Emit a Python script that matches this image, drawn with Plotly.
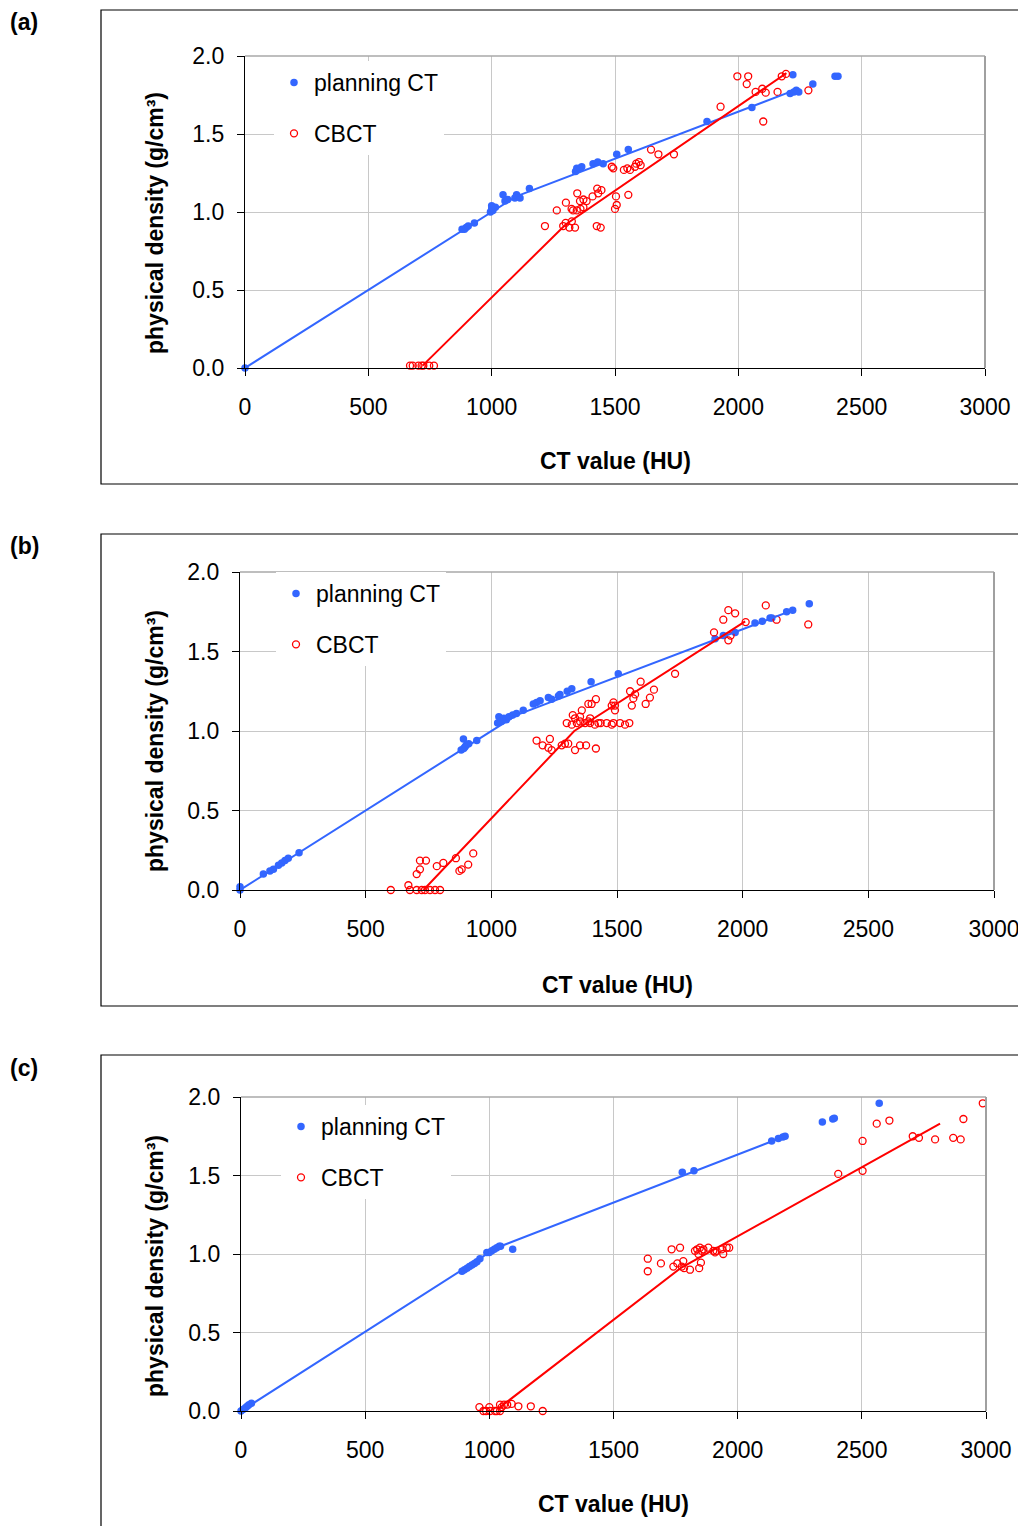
import plotly.graph_objects as go

# ---------------- Panel (a) ----------------
a_ct_hu = [0, 880, 890, 897, 905, 930, 995, 1000, 1005, 1000, 1015, 1046, 1054, 1065, 1094, 1101,
           1115, 1153, 1340, 1345, 1358, 1365, 1411, 1430, 1452, 1507, 1554, 1873, 2055, 2210, 2225,
           2235, 2245, 2221, 2302, 2392, 2404]
a_ct_rho = [0.0, 0.89, 0.89, 0.90, 0.91, 0.93, 1.00, 1.02, 1.01, 1.04, 1.03, 1.11, 1.07, 1.08, 1.09, 1.11,
            1.09, 1.15, 1.26, 1.28, 1.28, 1.29, 1.31, 1.32, 1.31, 1.37, 1.40, 1.58, 1.67, 1.76, 1.77,
            1.78, 1.77, 1.88, 1.82, 1.87, 1.87]
a_cb_hu = [669, 680, 703, 716, 723, 747, 766,
           1216, 1264, 1290, 1300, 1315, 1325, 1338,
           1301, 1324, 1330, 1345, 1360, 1372,
           1347, 1358, 1372, 1385,
           1409, 1428, 1432, 1445,
           1426, 1442, 1487, 1493, 1500, 1507, 1504, 1554,
           1536, 1550, 1561, 1581, 1586, 1597, 1604,
           1646, 1676, 1739, 1928, 1996, 2040, 2034,
           2070, 2097, 2111, 2101, 2159, 2176, 2193, 2284]
a_cb_rho = [0.015, 0.015, 0.015, 0.015, 0.015, 0.015, 0.015,
            0.91, 1.01, 0.91, 0.93, 0.90, 0.94, 0.90,
            1.06, 1.02, 1.01, 1.01, 1.02, 1.03,
            1.12, 1.07, 1.08, 1.07,
            1.10, 1.15, 1.12, 1.14,
            0.91, 0.90, 1.29, 1.28, 1.02, 1.045, 1.10, 1.11,
            1.27, 1.28, 1.27, 1.29, 1.31, 1.32, 1.30,
            1.40, 1.37, 1.37, 1.675, 1.87, 1.87, 1.82,
            1.77, 1.79, 1.765, 1.58, 1.77, 1.87, 1.885, 1.78]
a_fit_ct_hu = [0, 1100, 2210]
a_fit_ct_rho = [0.0, 1.10, 1.77]
a_fit_cb_hu = [720, 1300, 2195]
a_fit_cb_rho = [0.015, 0.92, 1.89]

# ---------------- Panel (b) ----------------
b_ct_hu = [0, 0, 93, 119, 133, 153, 166, 179, 192, 235,
           880, 889, 890, 895, 900, 910, 942,
           1025, 1030, 1040, 1050, 1060, 1070, 1085, 1100, 1127,
           1167, 1180, 1194, 1227, 1240, 1267, 1273, 1302, 1320, 1397, 1505,
           1890, 1923, 1970, 2049, 2078, 2109, 2116, 2175, 2199, 2265]
b_ct_rho = [0.0, 0.02, 0.10, 0.12, 0.13, 0.155, 0.17, 0.185, 0.20, 0.235,
            0.88, 0.95, 0.89, 0.90, 0.91, 0.92, 0.94,
            1.05, 1.09, 1.06, 1.08, 1.07, 1.09, 1.10, 1.11, 1.13,
            1.17, 1.18, 1.19, 1.21, 1.20, 1.22, 1.23, 1.25, 1.265, 1.31, 1.36,
            1.58, 1.60, 1.62, 1.68, 1.69, 1.71, 1.71, 1.75, 1.76, 1.80]
b_cb_hu = [600, 670, 676, 703, 723, 736, 756, 776, 796, 703, 716, 716, 740, 783, 809, 859, 873, 882, 908, 928,
           1180, 1204, 1227, 1233, 1240, 1280, 1293, 1306, 1333, 1353, 1377, 1416,
           1300, 1320, 1340, 1353, 1373, 1386, 1393, 1412, 1426, 1435, 1459, 1479, 1486, 1512, 1532, 1549,
           1324, 1333, 1353, 1360, 1393, 1386, 1399, 1416,
           1479, 1486, 1492, 1492, 1552, 1565, 1559, 1572,
           1594, 1614, 1631, 1647, 1731,
           1886, 1923, 1943, 1970, 1943, 1952, 2012, 2092, 2135, 2261]
b_cb_rho = [0.0, 0.03, 0.0, 0.0, 0.0, 0.0, 0.0, 0.0, 0.0, 0.10, 0.13, 0.185, 0.185, 0.15, 0.17, 0.20, 0.12, 0.13, 0.16, 0.23,
            0.94, 0.91, 0.895, 0.95, 0.88, 0.91, 0.92, 0.92, 0.88, 0.91, 0.91, 0.89,
            1.05, 1.04, 1.05, 1.06, 1.05, 1.06, 1.05, 1.04, 1.05, 1.05, 1.05, 1.04, 1.05, 1.05, 1.04, 1.05,
            1.10, 1.08, 1.09, 1.13, 1.08, 1.17, 1.17, 1.20,
            1.16, 1.18, 1.13, 1.16, 1.25, 1.205, 1.16, 1.23,
            1.31, 1.17, 1.21, 1.26, 1.36,
            1.62, 1.70, 1.76, 1.74, 1.57, 1.60, 1.685, 1.79, 1.70, 1.67]
b_fit_ct_hu = [0, 1100, 2200]
b_fit_ct_rho = [0.0, 1.10, 1.76]
b_fit_cb_hu = [730, 1330, 2010]
b_fit_cb_rho = [0.0, 1.0, 1.69]

# ---------------- Panel (c) ----------------
c_ct_hu = [0, 8, 18, 25, 32, 42,
           890, 900, 910, 920, 930, 940, 950, 962,
           990, 1000, 1010, 1020, 1030, 1040, 1045, 1094,
           1777, 1824, 2137, 2164, 2182, 2191, 2341, 2383, 2389, 2570]
c_ct_rho = [0.0, 0.01, 0.02, 0.03, 0.04, 0.05,
            0.89, 0.90, 0.91, 0.92, 0.93, 0.94, 0.95, 0.97,
            1.01, 1.01, 1.02, 1.03, 1.04, 1.05, 1.05, 1.03,
            1.52, 1.53, 1.72, 1.735, 1.745, 1.75, 1.84, 1.86, 1.865, 1.96]
c_cb_hu = [960, 976, 987, 1000, 1003, 1023, 1030, 1043, 1050, 1043, 1059, 1072, 1090, 1117, 1167, 1215,
           1638, 1638, 1691, 1734, 1768, 1741, 1757, 1775, 1781, 1784, 1808,
           1828, 1837, 1848, 1842, 1855, 1862, 1882, 1902, 1909, 1915, 1936, 1942, 1956, 1966,
           1845, 1852, 2405, 2503, 2503, 2560, 2611, 2705, 2730, 2795, 2868, 2898, 2909, 2987]
c_cb_rho = [0.025, 0.0, 0.0, 0.025, 0.0, 0.0, 0.0, 0.0, 0.025, 0.04, 0.04, 0.04, 0.045, 0.03, 0.03, 0.0,
            0.97, 0.89, 0.94, 1.03, 1.04, 0.92, 0.94, 0.92, 0.955, 0.91, 0.90,
            1.02, 1.03, 1.04, 1.00, 1.02, 1.03, 1.04, 1.02, 1.01, 1.02, 1.03, 1.00, 1.04, 1.04,
            0.91, 0.945, 1.51, 1.72, 1.53, 1.83, 1.85, 1.75, 1.74, 1.73, 1.74, 1.73, 1.86, 1.96]
c_fit_ct_hu = [0, 1030, 2190]
c_fit_ct_rho = [0.0, 1.04, 1.75]
c_fit_cb_hu = [1040, 1770, 2815]
c_fit_cb_rho = [0.02, 0.91, 1.83]

x_ticks = [0, 500, 1000, 1500, 2000, 2500, 3000]
y_ticks = [0.0, 0.5, 1.0, 1.5, 2.0]
panel_labels = ["(a)", "(b)", "(c)"]
x_title = "CT value (HU)"
y_title = "physical density (g/cm³)"
series_names = ["planning CT", "CBCT"]

BLUE = "#3366ff"
RED = "#ff0000"
FONT = "Liberation Sans, Arial, sans-serif"
W, H = 1018, 1526


def X(px):
    return px / W


def Y(py):
    return 1 - py / H


# layout geometry in pixels: plot area left, right, top, bottom; outer box top, bottom; legend left, top
panels = [
    dict(l=245, r=985, t=56, b=368, bt=10, bb=484, lx=274, ly=61, lab=22, xt=461, yt=223),
    dict(l=240, r=994, t=572, b=890, bt=534, bb=1006, lx=276, ly=572, lab=546, xt=985, yt=741),
    dict(l=241, r=986, t=1097, b=1411, bt=1055, bb=1540, lx=281, ly=1105, lab=1068, xt=1504, yt=1266),
]

data = [
    (a_ct_hu, a_ct_rho, a_cb_hu, a_cb_rho, a_fit_ct_hu, a_fit_ct_rho, a_fit_cb_hu, a_fit_cb_rho),
    (b_ct_hu, b_ct_rho, b_cb_hu, b_cb_rho, b_fit_ct_hu, b_fit_ct_rho, b_fit_cb_hu, b_fit_cb_rho),
    (c_ct_hu, c_ct_rho, c_cb_hu, c_cb_rho, c_fit_ct_hu, c_fit_ct_rho, c_fit_cb_hu, c_fit_cb_rho),
]

fig = go.Figure()
shapes = []
annotations = []
layout = {}

for i, (p, d) in enumerate(zip(panels, data)):
    n = "" if i == 0 else str(i + 1)
    xa, ya = "x" + n, "y" + n
    leg = "legend" + n
    ct_hu, ct_rho, cb_hu, cb_rho, fct_hu, fct_rho, fcb_hu, fcb_rho = d

    fig.add_trace(go.Scatter(x=ct_hu, y=ct_rho, mode="markers", name=series_names[0],
                             marker=dict(color=BLUE, size=7.5, symbol="circle"),
                             xaxis=xa, yaxis=ya, legend=leg, legendgroup="ct" + n, cliponaxis=False))
    fig.add_trace(go.Scatter(x=cb_hu, y=cb_rho, mode="markers", name=series_names[1],
                             marker=dict(color=RED, size=7, symbol="circle-open", line=dict(width=1.3, color=RED)),
                             xaxis=xa, yaxis=ya, legend=leg, legendgroup="cb" + n, cliponaxis=False))
    fig.add_trace(go.Scatter(x=fct_hu, y=fct_rho, mode="lines", line=dict(color=BLUE, width=2),
                             xaxis=xa, yaxis=ya, showlegend=False, hoverinfo="skip", cliponaxis=False))
    fig.add_trace(go.Scatter(x=fcb_hu, y=fcb_rho, mode="lines", line=dict(color=RED, width=2),
                             xaxis=xa, yaxis=ya, showlegend=False, hoverinfo="skip", cliponaxis=False))

    layout["xaxis" + n] = dict(
        domain=[X(p["l"]), X(p["r"])], anchor=ya, range=[0, 3000], tickvals=x_ticks,
        showgrid=True, gridcolor="#c8c8c8", gridwidth=1, zeroline=False,
        showline=True, linecolor="#000000", linewidth=1.3,
        ticks="outside", ticklen=7, tickcolor="#000000", tickwidth=1,
        tickfont=dict(family=FONT, size=23, color="#000000"), ticklabelstandoff=11,
        ticklabeloverflow="allow", automargin=False, fixedrange=True)
    layout["yaxis" + n] = dict(
        domain=[Y(p["b"]), Y(p["t"])], anchor=xa, range=[0, 2.0], tickvals=y_ticks, tickformat=".1f",
        showgrid=True, gridcolor="#c8c8c8", gridwidth=1, zeroline=False,
        showline=True, linecolor="#000000", linewidth=1.3,
        ticks="outside", ticklen=7, tickcolor="#000000", tickwidth=1,
        tickfont=dict(family=FONT, size=23, color="#000000"), ticklabelstandoff=8,
        automargin=False, fixedrange=True)
    layout[leg] = dict(
        x=X(p["lx"]), y=Y(p["ly"]), xanchor="left", yanchor="top",
        bgcolor="#ffffff", borderwidth=0, tracegroupgap=18,
        font=dict(family=FONT, size=23, color="#000000"), itemsizing="trace")

    # plot-area top/right border
    shapes.append(dict(type="line", xref=xa + " domain", yref=ya + " domain", x0=0, x1=1, y0=1, y1=1,
                       line=dict(color="#a8a8a8", width=1.5)))
    shapes.append(dict(type="line", xref=xa + " domain", yref=ya + " domain", x0=1, x1=1, y0=0, y1=1,
                       line=dict(color="#a0a0a0", width=2)))
    # outer frame
    shapes.append(dict(type="rect", xref="paper", yref="paper", x0=X(101), x1=X(1040),
                       y0=Y(p["bb"]), y1=Y(p["bt"]), line=dict(color="#000000", width=1.2),
                       fillcolor="rgba(0,0,0,0)", layer="below"))
    annotations.append(dict(text="<b>" + panel_labels[i] + "</b>", xref="paper", yref="paper",
                            x=X(8), y=Y(p["lab"]), xanchor="left", yanchor="middle", showarrow=False,
                            font=dict(family=FONT, size=23, color="#000000")))
    annotations.append(dict(text="<b>" + x_title + "</b>", xref="paper", yref="paper",
                            x=X((p["l"] + p["r"]) / 2), y=Y(p["xt"]), xanchor="center", yanchor="middle",
                            showarrow=False, font=dict(family=FONT, size=23, color="#000000")))
    annotations.append(dict(text="<b>" + y_title + "</b>", xref="paper", yref="paper",
                            x=X(155), y=Y(p["yt"]), xanchor="center", yanchor="middle", textangle=-90,
                            showarrow=False, font=dict(family=FONT, size=23, color="#000000")))

fig.update_layout(
    width=W, height=H, margin=dict(l=0, r=0, t=0, b=0, autoexpand=False),
    paper_bgcolor="#ffffff", plot_bgcolor="#ffffff",
    shapes=shapes, annotations=annotations, **layout)

fig.write_html("out.html", config={"displayModeBar": False},
               post_script="document.body.style.margin='0px';document.body.style.overflow='hidden';")
